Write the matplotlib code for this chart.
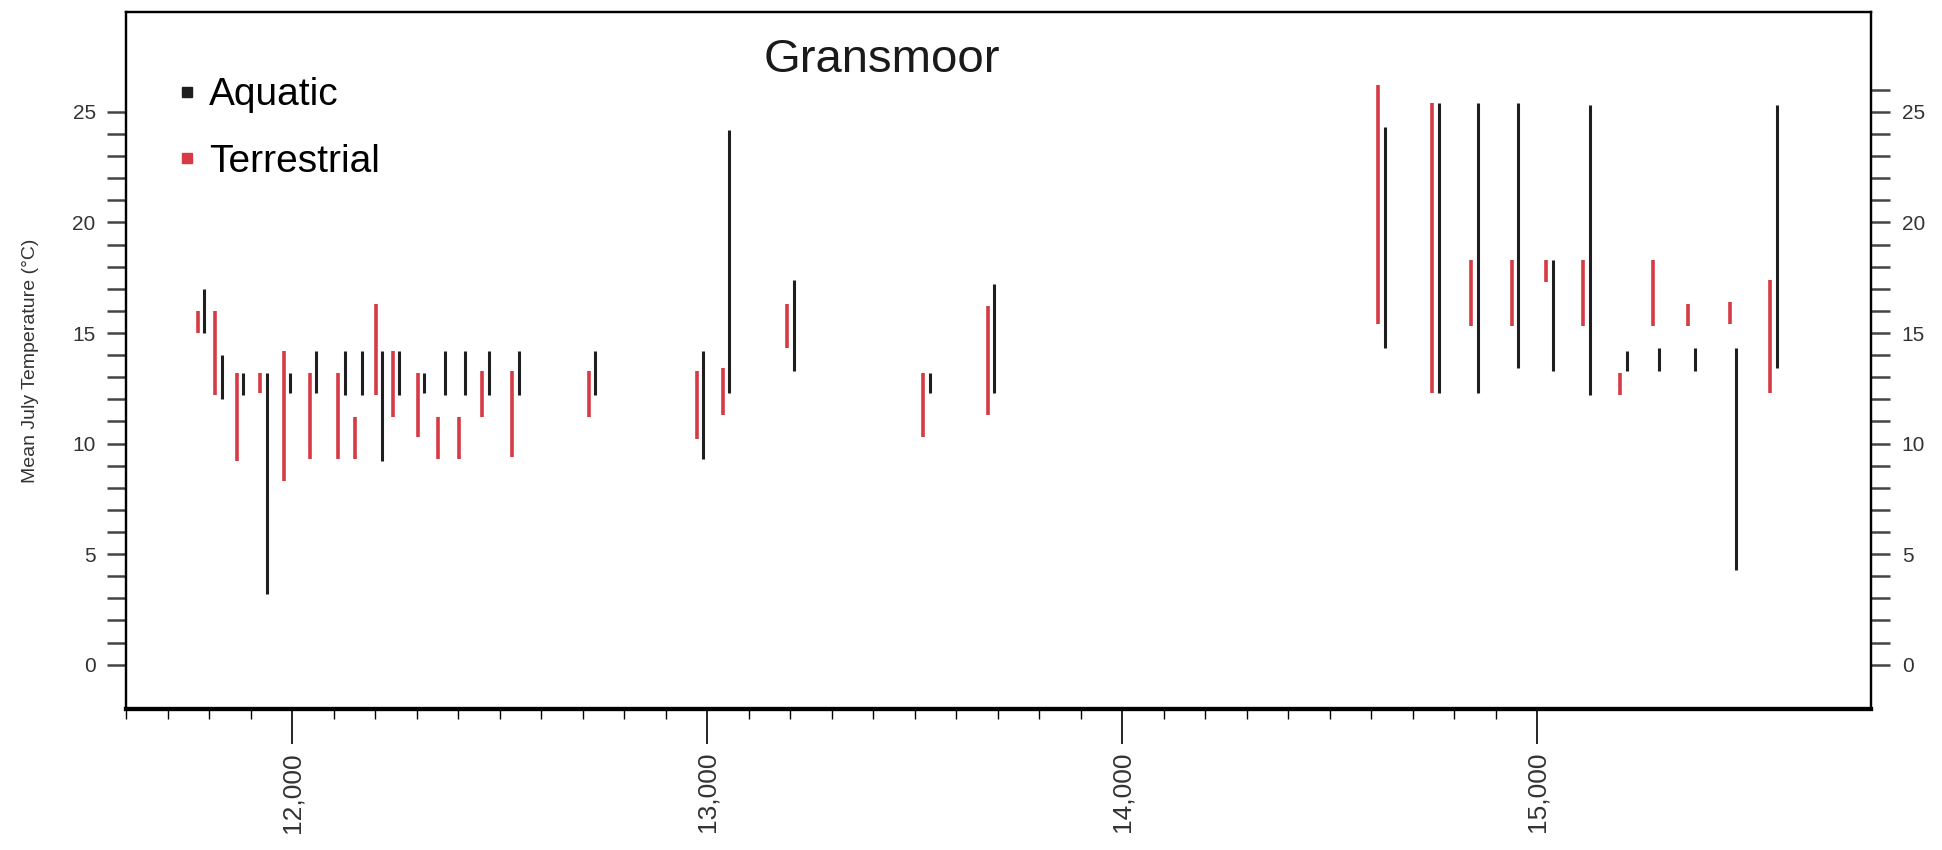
import numpy as np
import matplotlib
matplotlib.use('Agg')
import matplotlib.pyplot as plt
from matplotlib.lines import Line2D
from matplotlib.ticker import FuncFormatter

plt.rcParams['font.family'] = ['Liberation Sans', 'DejaVu Sans']

# sample ages (cal yr BP) and temperature ranges (deg C)
ages = [11780, 11822, 11874, 11931, 11987, 12050, 12118, 12160, 12209, 12250,
        12310, 12359, 12409, 12466, 12538, 12722, 12983, 13045, 13201, 13528,
        13684, 14624, 14755, 14849, 14946, 15030, 15119, 15208, 15286, 15372,
        15472, 15570]
terr_low = [15.0, 12.2, 9.2, 12.3, 8.3, 9.3, 9.3, 9.3, 12.2, 11.2,
            10.3, 9.3, 9.3, 11.2, 9.4, 11.2, 10.2, 11.3, 14.3, 10.3,
            11.3, 15.4, 12.3, 15.3, 15.3, 17.3, 15.3, 12.2, 15.3, 15.3,
            15.4, 12.3]
terr_high = [16.0, 16.0, 13.2, 13.2, 14.2, 13.2, 13.2, 11.2, 16.3, 14.2,
             13.2, 11.2, 11.2, 13.3, 13.3, 13.3, 13.3, 13.4, 16.3, 13.2,
             16.2, 26.2, 25.4, 18.3, 18.3, 18.3, 18.3, 13.2, 18.3, 16.3,
             16.4, 17.4]
aqua_low = [15.0, 12.0, 12.2, 3.2, 12.3, 12.3, 12.2, 12.2, 9.2, 12.2,
            12.3, 12.2, 12.2, 12.2, 12.2, 12.2, 9.3, 12.3, 13.3, 12.3,
            12.3, 14.3, 12.3, 12.3, 13.4, 13.3, 12.2, 13.3, 13.3, 13.3,
            4.3, 13.4]
aqua_high = [17.0, 14.0, 13.2, 13.2, 13.2, 14.2, 14.2, 14.2, 14.2, 14.2,
             13.2, 14.2, 14.2, 14.2, 14.2, 14.2, 14.2, 24.2, 17.4, 13.2,
             17.2, 24.3, 25.4, 25.4, 25.4, 18.3, 25.3, 14.2, 14.3, 14.3,
             14.3, 25.3]

x_major = [12000, 13000, 14000, 15000]
y_major = [0, 5, 10, 15, 20, 25]

red = '#d63a44'
black = '#1e1e1e'
text_col = '#333333'

fig = plt.figure(figsize=(19.42, 8.5), dpi=100)
ax = fig.add_axes([0.065, 0.166, 0.8986, 0.8194])

ages = np.array(ages)
ax.vlines(ages - 8, terr_low, terr_high, colors=red, linewidth=2.6)
ax.vlines(ages + 8, aqua_low, aqua_high, colors=black, linewidth=2.2)

ax.set_xlim(11600, 15805)
ax.set_ylim(-2, 29.5)

ax.set_xticks(x_major)
ax.set_xticks(np.arange(11600, 15001, 100), minor=True)
ax.xaxis.set_major_formatter(FuncFormatter(lambda v, p: '{:,.0f}'.format(v)))
ax.tick_params(axis='x', which='major', length=25, width=1.2, labelsize=19,
               labelrotation=90, labelcolor=text_col, pad=6)
ax.tick_params(axis='x', which='minor', length=7, width=1.0)

# left scale runs 0-25, right scale 0-26
ax.set_yticks(y_major)
ax.set_yticks(np.arange(0, 26, 1), minor=True)
ax.tick_params(axis='y', which='both', length=14, width=1.8,
               labelsize=15, labelcolor=text_col, pad=8, color='#444444')

ax2 = ax.twinx()
ax2.set_ylim(ax.get_ylim())
ax2.set_yticks(y_major)
ax2.set_yticks(np.arange(0, 27, 1), minor=True)
ax2.tick_params(axis='y', which='both', length=14, width=1.8,
                labelsize=15, labelcolor=text_col, pad=8, color='#444444')

for a in (ax, ax2):
    for side in ['left', 'right', 'top']:
        a.spines[side].set_linewidth(1.6)
    a.spines['bottom'].set_linewidth(3.0)

ax.set_ylabel('Mean July Temperature (\u00b0C)', fontsize=14, color=text_col,
              labelpad=24)

ax.text(0.433, 0.932, 'Gransmoor', transform=ax.transAxes, ha='center',
        va='center', fontsize=34, color='#1a1a1a')

handles = [Line2D([], [], marker='s', ls='', color=black, markersize=7),
           Line2D([], [], marker='s', ls='', color=red, markersize=7)]
ax.legend(handles, ['Aquatic', 'Terrestrial'], loc='upper left',
          bbox_to_anchor=(0.0295, 0.907), frameon=False, fontsize=28,
          handlelength=0.5, handletextpad=0.3, labelspacing=0.78,
          borderpad=0, borderaxespad=0)

fig.savefig('out.png', dpi=100)
